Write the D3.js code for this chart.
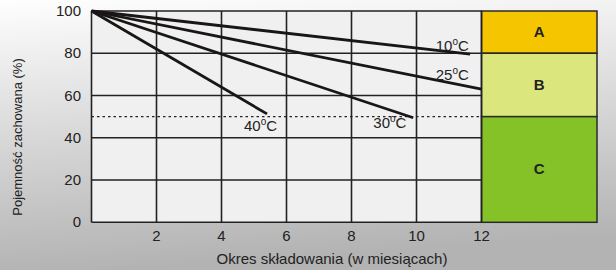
<!DOCTYPE html>
<html>
<head>
<meta charset="utf-8">
<script src="https://cdn.jsdelivr.net/npm/d3@7"></script>
<style>
  body { margin: 0; }
  svg { display: block; }
</style>
</head>
<body>
<div id="chart"></div>
<script>
// capacity retained over storage time at several temperatures
const series = [
  { label: "10", pts: [[0, 100], [11.65, 79.6]], text: [11.1, 81.2] },
  { label: "25", pts: [[0, 100], [12, 63]], text: [11.1, 67.5] },
  { label: "30", pts: [[0, 100], [9.9, 49.5]], text: [9.18, 44.5] },
  { label: "40", pts: [[0, 100], [5.4, 51.3]], text: [5.2, 43.2] }
];
const xTicks = [2, 4, 6, 8, 10, 12];
const yTicks = [0, 20, 40, 60, 80, 100];
const zones = [
  { name: "A", from: 80, to: 100, color: "#f5c500" },
  { name: "B", from: 50, to: 80, color: "#dbe77c" },
  { name: "C", from: 0, to: 50, color: "#84c227" }
];
const threshold = 50;

const W = 616, H = 270;
const font = "Liberation Sans, Arial, sans-serif";
const svg = d3.select("#chart").append("svg")
  .attr("width", W).attr("height", H);

const grad = svg.append("defs").append("linearGradient")
  .attr("id", "bg").attr("x1", 0).attr("y1", 0).attr("x2", 0.15).attr("y2", 1);
grad.append("stop").attr("offset", 0).attr("stop-color", "#fefefe");
grad.append("stop").attr("offset", 1).attr("stop-color", "#b3b3b3");
svg.append("rect").attr("width", W).attr("height", H).attr("fill", "url(#bg)");

const x = d3.scaleLinear([0, 12], [91.5, 481.5]);
const y = d3.scaleLinear([0, 100], [222.3, 11]);
const boxRight = 597;

// plot background
svg.append("rect")
  .attr("x", x(0)).attr("y", y(100))
  .attr("width", x(12) - x(0)).attr("height", y(0) - y(100))
  .attr("fill", "#f0f0f0");

// zones
svg.append("g").selectAll("rect")
  .data(zones)
  .join("rect")
    .attr("x", x(12)).attr("y", d => y(d.to))
    .attr("width", boxRight - x(12)).attr("height", d => y(d.from) - y(d.to))
    .attr("fill", d => d.color)
    .attr("stroke", "#2a2a2a").attr("stroke-width", 1.5);

svg.append("g").selectAll("text")
  .data(zones)
  .join("text")
    .attr("x", (x(12) + boxRight) / 2)
    .attr("y", d => (y(d.from) + y(d.to)) / 2 + 5)
    .attr("text-anchor", "middle")
    .attr("font-family", font)
    .attr("font-weight", "bold").attr("font-size", 15)
    .attr("fill", "#222")
    .text(d => d.name);

// grid
const grid = svg.append("g").attr("stroke", "#222").attr("stroke-width", 1.6);
grid.selectAll("line.h")
  .data(yTicks)
  .join("line")
    .attr("class", "h")
    .attr("x1", x(0)).attr("x2", x(12))
    .attr("y1", d => y(d)).attr("y2", d => y(d));
grid.selectAll("line.v")
  .data([0].concat(xTicks))
  .join("line")
    .attr("class", "v")
    .attr("x1", d => x(d)).attr("x2", d => x(d))
    .attr("y1", y(0)).attr("y2", y(100));

// 50% threshold
svg.append("line")
  .attr("x1", x(0)).attr("x2", x(12))
  .attr("y1", y(threshold)).attr("y2", y(threshold))
  .attr("stroke", "#222").attr("stroke-width", 1.2)
  .attr("stroke-dasharray", "2.5,3");

// curves
const line = d3.line().x(d => x(d[0])).y(d => y(d[1]));
svg.append("g").selectAll("path")
  .data(series)
  .join("path")
    .attr("d", d => line(d.pts))
    .attr("fill", "none")
    .attr("stroke", "#1a1616").attr("stroke-width", 2.8);

const lbl = svg.append("g").selectAll("text")
  .data(series)
  .join("text")
    .attr("x", d => x(d.text[0]))
    .attr("y", d => y(d.text[1]))
    .attr("text-anchor", "middle")
    .attr("font-family", font)
    .attr("font-size", 15).attr("fill", "#222");
lbl.append("tspan").text(d => d.label);
lbl.append("tspan").attr("dy", -6).attr("font-size", 10).text("o");
lbl.append("tspan").attr("dy", 6).text("C");

// tick labels
svg.append("g").selectAll("text")
  .data(yTicks)
  .join("text")
    .attr("x", 81).attr("y", d => y(d) + 5)
    .attr("text-anchor", "end")
    .attr("font-family", font)
    .attr("font-size", 15).attr("fill", "#222")
    .text(d => d);

svg.append("g").selectAll("text")
  .data(xTicks)
  .join("text")
    .attr("x", d => x(d)).attr("y", 241)
    .attr("text-anchor", "middle")
    .attr("font-family", font)
    .attr("font-size", 15).attr("fill", "#222")
    .text(d => d);

svg.append("text")
  .attr("x", 332).attr("y", 264)
  .attr("text-anchor", "middle")
  .attr("font-family", font)
  .attr("font-size", 15).attr("fill", "#222")
  .text("Okres składowania (w miesiącach)");

svg.append("text")
  .attr("transform", "translate(22,137) rotate(-90)")
  .attr("text-anchor", "middle")
  .attr("font-family", font)
  .attr("font-size", 13).attr("fill", "#222")
  .text("Pojemność zachowana (%)");
</script>
</body>
</html>
